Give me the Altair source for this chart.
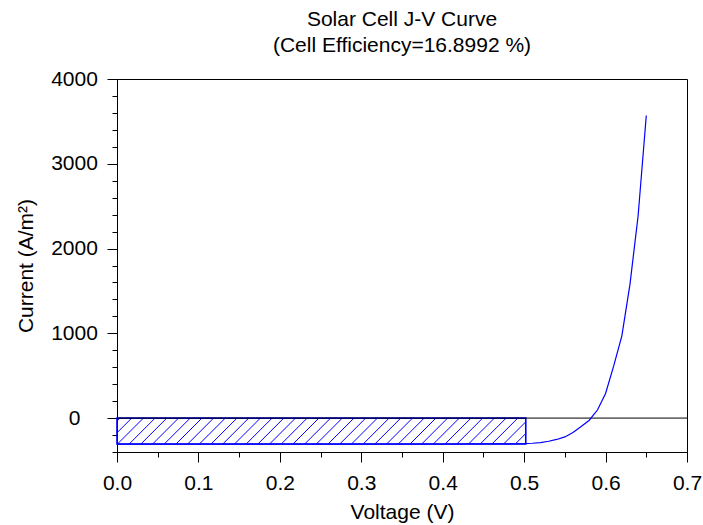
import altair as alt
import numpy as np
import pandas as pd

# J-V curve samples (V, A/m^2)
voltage = [0.00, 0.10, 0.20, 0.30, 0.40, 0.45, 0.48, 0.50, 0.51, 0.52, 0.53,
           0.54, 0.55, 0.56, 0.57, 0.58, 0.59, 0.60, 0.61, 0.62, 0.63, 0.64, 0.65]
current = [-308, -308, -308, -307, -306, -305, -304, -301, -297, -290, -273,
           -252, -222, -170, -100, -25, 95, 290, 615, 970, 1580, 2390, 3570]

# Maximum power point rectangle
v_mp = 0.502
j_mp = -306

x_domain = [0.0, 0.7]
y_domain = [-400, 4000]
x_major = [0.0, 0.1, 0.2, 0.3, 0.4, 0.5, 0.6, 0.7]
x_minor = [0.05, 0.15, 0.25, 0.35, 0.45, 0.55, 0.65]
y_major = [0, 1000, 2000, 3000, 4000]
y_minor = [-400, -200, 200, 400, 600, 800, 1200, 1400, 1600, 1800, 2200, 2400,
           2600, 2800, 3200, 3400, 3600, 3800]

W, H = 570, 373
FONT = "Liberation Sans"
BLUE = "#0000ff"

curve_df = pd.DataFrame({"V": voltage, "J": current})
rect_df = pd.DataFrame({"v0": [0.0], "v1": [v_mp], "j0": [0.0], "j1": [j_mp]})

# Diagonal hatch segments clipped to the power rectangle (45 degrees on screen)
px_v = W / (x_domain[1] - x_domain[0])
px_j = H / (y_domain[1] - y_domain[0])
wr = v_mp * px_v
hr = -j_mp * px_j
segs = []
for c in np.arange(-hr + 3.0, wr, 11.7):
    w0 = max(0.0, -c)
    w1 = min(hr, wr - c)
    if w1 <= w0:
        continue
    segs.append({
        "a": (c + w0) / px_v, "b": (c + w1) / px_v,
        "p": j_mp + w0 / px_j, "q": j_mp + w1 / px_j,
    })
hatch_df = pd.DataFrame(segs)

xs = alt.Scale(domain=x_domain, nice=False, zero=False)
ys = alt.Scale(domain=y_domain, nice=False, zero=False)

x_axis = alt.Axis(values=x_major, format=".1f", orient="bottom", tickSize=10,
                  labelPadding=10, title="Voltage (V)", titlePadding=8, grid=False,
                  labelFlush=False, labelOverlap=False)
y_axis = alt.Axis(values=y_major, format="d", orient="left", tickSize=10,
                  labelAlign="center", labelPadding=33,
                  title="Current (A/m²)", titlePadding=14,
                  grid=False, labelOverlap=False)

curve = alt.Chart(curve_df).mark_line(color=BLUE, strokeWidth=1.2).encode(
    x=alt.X("V:Q", scale=xs, axis=x_axis),
    y=alt.Y("J:Q", scale=ys, axis=y_axis),
)

rect = alt.Chart(rect_df).mark_rect(fill=None, stroke=BLUE, strokeWidth=1.6).encode(
    x=alt.X("v0:Q", scale=xs, axis=None), x2="v1:Q",
    y=alt.Y("j0:Q", scale=ys, axis=None), y2="j1:Q",
)

hatch = alt.Chart(hatch_df).mark_rule(color=BLUE, strokeWidth=1).encode(
    x=alt.X("a:Q", scale=xs, axis=None), x2="b:Q",
    y=alt.Y("p:Q", scale=ys, axis=None), y2="q:Q",
)

zero = alt.Chart(pd.DataFrame({"z": [0]})).mark_rule(color="black", strokeWidth=1).encode(
    y=alt.Y("z:Q", scale=ys,
            axis=alt.Axis(values=y_minor, orient="left", tickSize=5, labels=False,
                          title=None, domain=False, grid=False)),
)

minor_x = alt.Chart(pd.DataFrame({"m": [0.0]})).mark_point(opacity=0).encode(
    x=alt.X("m:Q", scale=xs,
            axis=alt.Axis(values=x_minor, orient="bottom", tickSize=5, labels=False,
                          title=None, domain=False, grid=False)),
)

chart = alt.layer(hatch, rect, zero, curve, minor_x).resolve_axis(
    x="independent", y="independent"
).resolve_scale(x="shared", y="shared").properties(
    width=W,
    height=H,
    autosize=alt.AutoSizeParams(type="none"),
    padding={"left": 117, "top": 79, "right": 16, "bottom": 73},
    title=alt.Title(
        text="Solar Cell J-V Curve",
        subtitle="(Cell Efficiency=16.8992 %)",
        font=FONT, subtitleFont=FONT,
        fontSize=21, subtitleFontSize=21,
        fontWeight="normal", subtitleFontWeight="normal",
        color="black", subtitleColor="black",
        anchor="middle", frame="group",
        offset=12, subtitlePadding=5,
    ),
).configure_view(
    stroke="black", strokeWidth=1
).configure_axis(
    domainColor="black", tickColor="black", labelColor="black", titleColor="black",
    labelFont=FONT, titleFont=FONT, labelFontSize=21, titleFontSize=21,
    titleFontWeight="normal", domainWidth=1, tickWidth=1,
)

chart.save("out.html", embed_options={"renderer": "svg", "actions": False})
